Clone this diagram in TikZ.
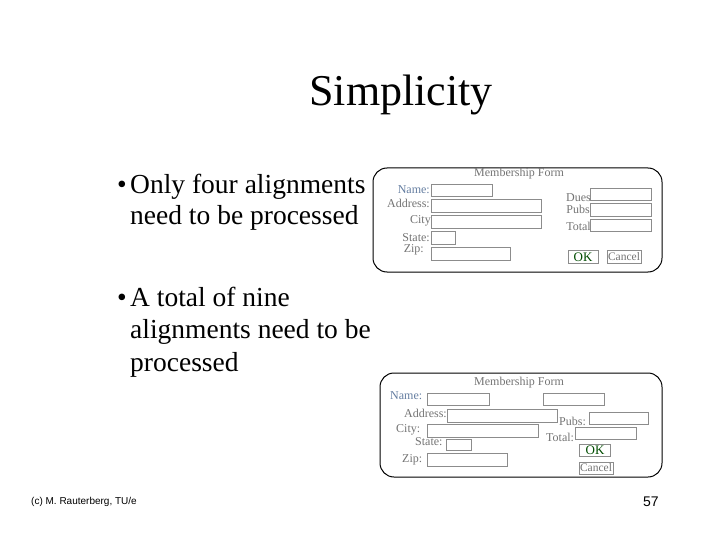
\documentclass[tikz,border=0pt]{standalone}
\usepackage{fontspec}
\setmainfont{Liberation Serif}
\newfontfamily\arialf{Liberation Sans}
\definecolor{nameblue}{RGB}{100,125,160}
\begin{document}
\begin{tikzpicture}[x=1pt,y=-1pt,
  fbox/.style={draw=gray!90,line width=0.9pt},
  lbl/.style={text=gray!90!black,font=\fontsize{12}{12}\selectfont,inner sep=0pt},
  nlbl/.style={lbl,text=nameblue},
  bul/.style={anchor=base west,inner sep=0pt,font=\fontsize{27.5}{27.5}\selectfont}]
\useasboundingbox (0,0) rectangle (720,540);
\node[inner sep=0pt,font=\fontsize{44}{44}\selectfont] (title) at (401,95) {Simplicity};
\node[bul] (b1) at (117,194) {•};
\node[bul] (t1a) at (130,194) {Only four alignments};
\node[bul] (t1b) at (130,225) {need to be processed};
\node[bul] (b2) at (117,306) {•};
\node[bul] (t2a) at (130,306) {A total of nine};
\node[bul] (t2b) at (130,338) {alignments need to be};
\node[bul] (t2c) at (130,371) {processed};
\node[anchor=base west,inner sep=0pt,font=\arialf\fontsize{10}{10}\selectfont] (foot) at (31,504) {(c) M. Rauterberg, TU/e};
\node[anchor=base west,inner sep=0pt,font=\arialf\fontsize{14}{14}\selectfont] (pg) at (643,506) {57};
% form 1
\draw[line width=1pt,rounded corners=14pt] (373,168) rectangle (662,272);
\node[lbl] (f1t) at (519,174) {Membership Form};
\node[nlbl,anchor=east] (n1) at (430,190) {Name:};
\node[lbl,anchor=east] (a1) at (430,203) {Address:};
\node[lbl,anchor=east] (c1) at (431,221) {City};
\node[lbl,anchor=east] (s1) at (430,238) {State:};
\node[lbl,anchor=east] (z1) at (424,250) {Zip:};
\draw[fbox] (431,184) rectangle (492,196);
\draw[fbox] (431,199) rectangle (541,212);
\draw[fbox] (431,215) rectangle (541,228);
\draw[fbox] (431,231) rectangle (455,244);
\draw[fbox] (431,247) rectangle (510,260);
\node[lbl,anchor=east] (d1) at (591,198) {Dues};
\node[lbl,anchor=east] (p1) at (590,209) {Pubs};
\node[lbl,anchor=east] (to1) at (591,226) {Total};
\draw[fbox] (590,188) rectangle (651,200);
\draw[fbox] (590,203) rectangle (651,216);
\draw[fbox] (590,219) rectangle (651,231);
\node[fbox,inner sep=1pt,minimum width=30pt,minimum height=13pt,text=green!30!black,font=\fontsize{13}{13}\selectfont] (ok1) at (583,257) {OK};
\node[fbox,inner sep=1pt,minimum width=33pt,minimum height=13pt,text=gray!90!black,font=\fontsize{11.5}{11.5}\selectfont] (ca1) at (624,257) {Cancel};
% form 2
\draw[line width=1pt,rounded corners=14pt] (380,373) rectangle (662,477);
\node[lbl] (f2t) at (519,383) {Membership Form};
\node[nlbl,anchor=west] (n2) at (390,396) {Name:};
\draw[fbox] (427,393) rectangle (489,405);
\draw[fbox] (543,393) rectangle (604,405);
\node[lbl,anchor=east] (a2) at (447,413) {Address:};
\draw[fbox] (447,409) rectangle (557,422);
\node[lbl,anchor=west] (p2) at (559,421) {Pubs:};
\draw[fbox] (589,412) rectangle (648,424);
\node[lbl,anchor=west] (c2) at (396,430) {City:};
\draw[fbox] (427,424) rectangle (538,437);
\node[lbl,anchor=west] (to2) at (546,437) {Total:};
\draw[fbox] (575,427) rectangle (636,439);
\node[lbl,anchor=west] (s2) at (415,442) {State:};
\draw[fbox] (446,439) rectangle (471,450);
\node[lbl,anchor=west] (z2) at (402,460) {Zip:};
\draw[fbox] (427,453) rectangle (507,466);
\node[fbox,inner sep=1pt,minimum width=31pt,minimum height=12pt,text=green!30!black,font=\fontsize{13}{13}\selectfont] (ok2) at (595,450) {OK};
\node[fbox,inner sep=1pt,minimum width=33pt,minimum height=12pt,text=gray!90!black,font=\fontsize{11.5}{11.5}\selectfont] (ca2) at (596,468) {Cancel};
\end{tikzpicture}
\end{document}
